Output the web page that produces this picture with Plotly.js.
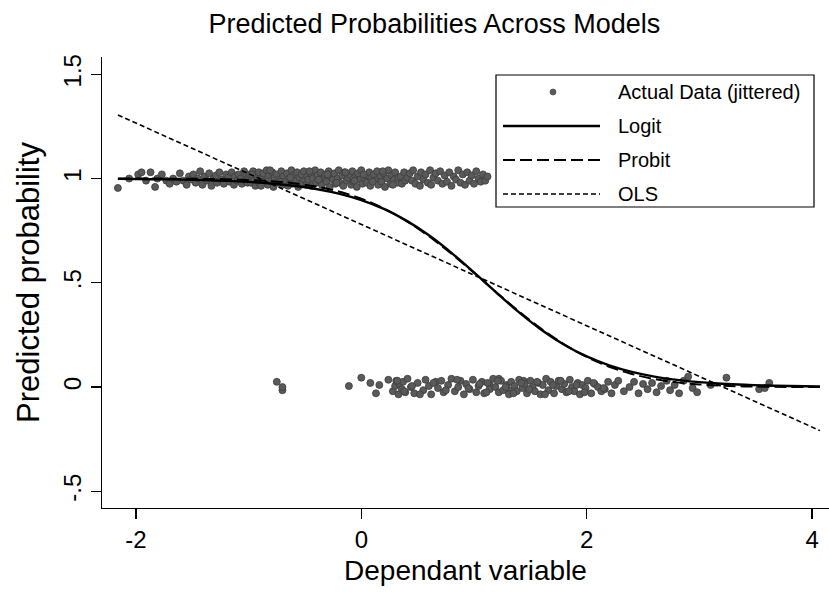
<!DOCTYPE html>
<html>
<head>
<meta charset="utf-8">
<script src="https://cdn.plot.ly/plotly-3.0.1.min.js"></script>
<style>html,body{margin:0;padding:0;background:#fff;}#chart{width:829px;height:601px;}</style>
</head>
<body>
<div id="chart"></div>
<script>
// Actual data (jittered): outcome = 1 cluster
const topX = [-2.16,-2.06,-1.98,-1.95,-1.91,-1.87,-1.83,-1.81,-1.77,-1.73,-1.70,-1.67,-1.64,-1.61,-1.58,-1.55,-1.53,-1.51,
 -1.49,-1.47,-1.45,-1.43,-1.41,-1.39,-1.37,-1.35,-1.33,-1.31,-1.29,-1.28,-1.26,-1.24,-1.22,-1.20,-1.18,-1.17,-1.15,-1.13,-1.12,-1.10,-1.09,-1.07,-1.06,-1.04,-1.03,-1.02,-1.01,-1.00,
 -0.99,-0.98,-0.96,-0.95,-0.94,-0.92,-0.91,-0.90,-0.88,-0.87,-0.86,-0.84,-0.83,-0.82,-0.80,-0.79,-0.78,-0.77,-0.75,-0.74,-0.73,-0.71,-0.70,-0.69,-0.68,-0.66,-0.65,-0.64,-0.62,-0.61,-0.60,-0.58,-0.57,-0.56,-0.55,-0.53,-0.52,-0.51,-0.49,-0.48,-0.47,-0.45,-0.44,-0.43,-0.41,-0.40,-0.39,-0.37,-0.36,-0.35,-0.33,-0.32,-0.31,-0.29,-0.28,-0.27,-0.25,-0.24,-0.23,-0.21,-0.20,-0.19,-0.17,-0.16,-0.15,-0.13,-0.12,-0.11,-0.09,-0.08,-0.07,-0.05,-0.04,-0.03,-0.01,0.00,0.01,0.03,0.04,0.05,0.07,0.08,0.09,0.11,0.12,0.14,0.15,0.17,0.18,0.20,0.21,0.23,0.24,0.26,0.27,0.29,0.30,0.32,0.33,0.35,0.36,0.38,0.39,
 -0.97,-0.89,-0.81,-0.72,-0.63,-0.54,-0.46,-0.38,-0.30,-0.22,-0.14,-0.06,0.02,0.10,0.19,0.28,
 0.41,0.43,0.45,0.46,0.48,0.50,0.52,0.53,0.55,0.57,0.59,0.61,0.62,0.64,0.66,0.68,0.70,0.72,0.74,0.76,0.78,0.80,0.82,0.84,0.86,0.88,0.90,0.92,0.94,0.96,0.98,1.00,1.02,1.04,1.06,1.08,1.10,1.12,1.14,1.22,1.31,1.44];
const topY = [0.955,1.000,1.020,1.030,0.990,1.030,0.960,1.000,1.020,0.990,0.975,1.000,0.985,1.025,0.990,0.970,1.010,0.995,
 1.020,0.980,1.000,1.035,0.970,1.010,0.990,1.025,0.965,1.000,1.015,0.980,1.030,0.995,0.975,1.020,1.005,0.985,1.030,0.970,1.010,0.990,1.020,1.000,0.975,1.035,0.990,1.015,0.980,1.005,
 1.020,0.980,1.035,0.995,0.965,1.010,1.030,0.975,1.000,1.025,0.985,1.040,0.970,1.015,0.990,1.030,0.960,1.005,1.020,0.980,0.995,1.035,0.970,1.010,0.985,1.025,0.965,1.000,1.040,0.975,1.015,0.990,1.030,0.960,1.005,1.020,0.985,1.035,0.970,1.010,0.995,1.025,0.965,1.000,1.040,0.980,1.015,0.990,1.030,0.970,1.005,1.020,0.985,1.035,0.960,1.010,0.995,1.025,0.975,1.000,1.040,0.980,1.015,0.965,1.030,0.990,1.005,1.020,0.970,1.035,0.985,1.010,0.960,1.025,0.995,1.040,0.975,1.000,1.015,0.980,1.030,0.965,1.005,1.020,0.990,1.035,0.970,1.010,0.985,1.025,0.960,1.000,1.040,0.975,1.015,0.995,1.030,0.980,1.005,
 1.010,0.975,1.030,0.990,1.020,0.965,1.040,0.985,1.005,0.970,1.035,0.995,1.020,0.980,1.030,0.990,
 1.020,0.985,1.035,0.970,1.005,1.025,0.990,1.040,0.975,1.010,0.965,1.030,0.995,1.020,0.980,1.040,0.970,1.005,1.025,0.990,1.035,0.975,1.015,0.985,1.030,0.965,1.010,0.995,1.040,0.980,1.020,0.970,1.030,0.990,1.015,0.975,1.035,1.000,0.985,1.020,0.990,1.010];

// Actual data (jittered): outcome = 0 cluster
const botX = [-0.75,-0.70,-0.70,-0.11,0.00,0.08,0.13,0.16,0.24,
 0.28,0.30,0.31,0.33,0.34,0.36,0.37,0.39,0.41,0.44,0.47,0.50,0.55,0.57,0.60,0.62,0.66,0.68,0.71,0.73,0.77,0.80,0.83,0.86,0.88,0.91,0.93,0.96,0.99,1.02,1.04,1.07,1.09,1.12,1.14,1.17,1.19,1.22,1.24,1.26,1.29,1.31,1.33,1.36,1.38,1.40,1.43,1.45,1.47,1.50,1.52,1.54,1.57,1.59,1.61,1.64,1.66,1.68,1.71,1.73,1.75,1.78,1.80,1.82,1.85,1.87,1.89,1.92,1.94,1.96,1.99,2.01,2.04,2.07,2.10,2.13,2.16,2.19,2.22,2.25,
 0.32,0.38,0.45,0.52,0.64,0.75,0.85,0.95,1.05,1.11,1.21,1.28,1.35,1.42,1.49,1.56,1.63,1.70,1.77,1.84,1.91,1.98,2.06,2.15,
 2.28,2.33,2.38,2.42,2.46,2.50,2.54,2.58,2.62,2.66,2.71,2.74,2.78,2.82,2.86,2.90,2.94,2.98,3.10,3.24,3.53,3.58,3.62,3.69,3.71,3.76,4.03];
const botY = [0.010,0.040,-0.015,0.030,0.025,-0.015,0.000,0.005,0.045,
 0.020,-0.030,0.010,0.035,-0.020,0.005,0.030,-0.035,0.015,-0.010,0.025,-0.025,0.040,0.000,-0.030,0.020,-0.015,0.035,0.005,-0.035,0.025,-0.005,0.030,-0.025,0.010,0.040,-0.020,0.000,0.030,-0.035,0.015,-0.010,0.035,-0.025,0.005,0.025,-0.030,0.020,-0.010,0.040,0.000,-0.025,0.030,-0.015,0.010,-0.035,0.025,0.005,-0.020,0.035,-0.005,0.015,-0.030,0.030,0.000,-0.020,0.020,-0.035,0.010,0.040,-0.015,0.025,-0.030,0.005,0.030,-0.010,0.015,-0.025,0.035,0.000,-0.020,0.020,-0.035,0.010,-0.005,0.030,-0.030,0.015,0.000,-0.020,
 -0.010,0.025,-0.030,0.010,0.030,-0.020,0.005,-0.035,0.020,-0.015,0.035,-0.005,0.015,-0.025,0.030,0.000,-0.030,0.020,-0.010,0.025,-0.035,0.010,0.030,-0.020,
 0.010,-0.025,0.020,-0.005,0.030,-0.020,0.000,0.025,-0.030,0.015,-0.010,0.020,-0.025,0.005,0.030,-0.015,0.010,-0.030,0.030,0.050,-0.005,-0.025,0.010,0.045,-0.010,-0.005,0.020];

// Fitted values
const fitX   = [-2.16,-2.0,-1.8,-1.6,-1.4,-1.2,-1.0,-0.8,-0.6,-0.4,-0.2,0.0,0.2,0.4,0.6,0.8,1.0,1.2,1.4,1.6,1.8,2.0,2.2,2.4,2.6,2.8,3.0,3.2,3.4,3.6,3.8,4.07];
const logitP = [0.9983,0.9977,0.9966,0.9950,0.9926,0.9891,0.9840,0.9765,0.9656,0.9500,0.9277,0.8966,0.8542,0.7984,0.7279,0.6438,0.5498,0.4521,0.3580,0.2737,0.2029,0.1468,0.1041,0.0728,0.0504,0.0346,0.0237,0.0161,0.0109,0.0074,0.0050,0.0030];
const probitP= [0.9999,0.9999,0.9997,0.9993,0.9984,0.9967,0.9934,0.9876,0.9777,0.9618,0.9377,0.9032,0.8563,0.7962,0.7231,0.6391,0.5478,0.4538,0.3624,0.2783,0.2050,0.1446,0.0975,0.0628,0.0385,0.0225,0.0126,0.0066,0.0033,0.0016,0.0007,0.0002];
const olsX = [-2.16,4.07];
const olsP = [1.305,-0.209];

const yTickVals = [-0.5,0,0.5,1,1.5];
const yTickText = ['-.5','0','.5','1','1.5'];
const xTickVals = [-2,0,2,4];
const xTickText = ['-2','0','2','4'];
const legendLabels = ['Actual Data (jittered)','Logit','Probit','OLS'];

const FONT = 'Liberation Sans, Arial, Helvetica, sans-serif';
const dotColor = '#5a5a5a';

const traces = [
  {x: topX.concat(botX), y: topY.concat(botY), type:'scatter', mode:'markers', name: legendLabels[0],
   marker:{size:7, color:dotColor, line:{width:0.8, color:'#3c3c3c'}}, hoverinfo:'x+y'},
  {x: olsX, y: olsP, type:'scatter', mode:'lines', name: legendLabels[3], line:{color:'#000', width:1.6, dash:'5px,3px'}},
  {x: fitX, y: probitP, type:'scatter', mode:'lines', name: legendLabels[2], line:{color:'#000', width:2, dash:'12px,5px', shape:'spline'}},
  {x: fitX, y: logitP, type:'scatter', mode:'lines', name: legendLabels[1], line:{color:'#000', width:2.4, shape:'spline'}}
];

// custom Stata-style legend (pixel-based layout in paper coordinates)
const L = 102, R = 829, T = 57, B = 508;
const PW = R - L, PH = B - T;
const px = v => (v - L) / PW;
const py = v => (B - v) / PH;
const rows = [92, 126, 160, 194];
const shapes = [
  {type:'rect', xref:'paper', yref:'paper', x0:px(496), x1:px(814), y0:py(207), y1:py(75), fillcolor:'#fff', line:{color:'#000', width:1.2}, layer:'above'},
  {type:'circle', xref:'paper', yref:'paper', xsizemode:'pixel', ysizemode:'pixel', xanchor:px(553), yanchor:py(rows[0]), x0:-3, x1:3, y0:-3, y1:3, fillcolor:dotColor, line:{color:'#3c3c3c', width:0.6}, layer:'above'},
  {type:'line', xref:'paper', yref:'paper', x0:px(503), x1:px(600), y0:py(rows[1]), y1:py(rows[1]), line:{color:'#000', width:2.4}, layer:'above'},
  {type:'line', xref:'paper', yref:'paper', x0:px(503), x1:px(600), y0:py(rows[2]), y1:py(rows[2]), line:{color:'#000', width:2, dash:'12px,5px'}, layer:'above'},
  {type:'line', xref:'paper', yref:'paper', x0:px(503), x1:px(600), y0:py(rows[3]), y1:py(rows[3]), line:{color:'#000', width:1.6, dash:'5px,3px'}, layer:'above'}
];
const annotations = legendLabels.map((t, i) => ({
  text: t, xref:'paper', yref:'paper', x: px(616), y: py(rows[i]), xanchor:'left', yanchor:'middle',
  showarrow:false, font:{family:FONT, size:20, color:'#000'}
}));

const layout = {
  width: 829, height: 601,
  margin: {l: L, r: 829 - R, t: T, b: 601 - B},
  paper_bgcolor:'#fff', plot_bgcolor:'#fff',
  showlegend:false,
  font:{family:FONT, color:'#000'},
  title:{text:'Predicted Probabilities Across Models', x:0.524, xanchor:'center', y:1 - 24/601, yanchor:'middle', font:{family:FONT, size:27, color:'#000'}},
  xaxis:{range:[-2.301, 4.15], tickvals:xTickVals, ticktext:xTickText, showgrid:false, zeroline:false,
    showline:true, linecolor:'#000', linewidth:1.3, ticks:'outside', ticklen:10, tickwidth:1.3, tickcolor:'#000',
    tickfont:{family:FONT, size:24, color:'#000'},
    title:{text:'Dependant variable', font:{family:FONT, size:28, color:'#000'}, standoff:8}},
  yaxis:{range:[-0.58, 1.583], tickvals:yTickVals, ticktext:yTickText, showgrid:false, zeroline:false,
    showline:true, linecolor:'#000', linewidth:1.3, ticks:'outside', ticklen:10, tickwidth:1.3, tickcolor:'#000',
    tickangle:-90, tickfont:{family:FONT, size:24, color:'#000'},
    title:{text:'Predicted probability', font:{family:FONT, size:31, color:'#000'}, standoff:10}},
  shapes: shapes,
  annotations: annotations
};

Plotly.newPlot('chart', traces, layout, {displayModeBar:false, staticPlot:true});
</script>
</body>
</html>
